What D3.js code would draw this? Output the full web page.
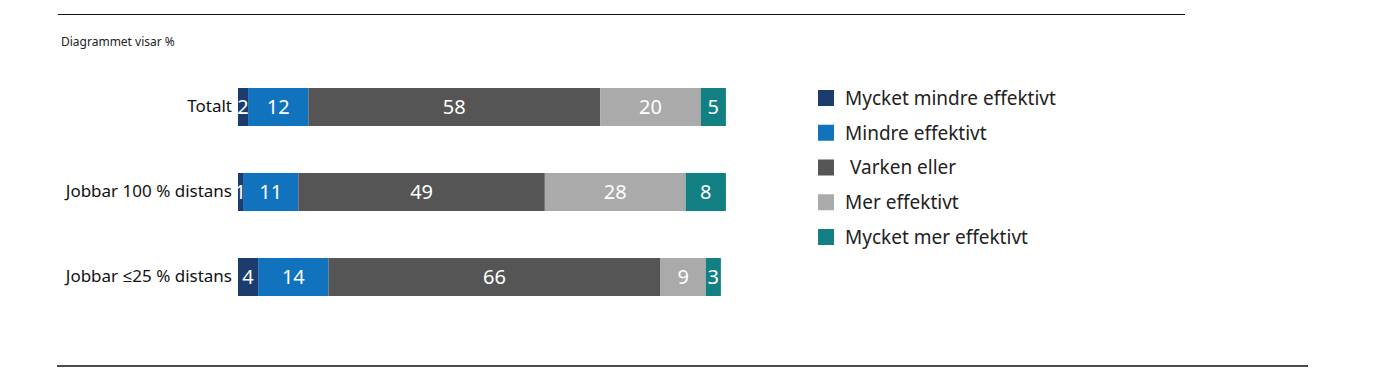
<!DOCTYPE html>
<html>
<head>
<meta charset="utf-8">
<script src="https://cdn.jsdelivr.net/npm/d3@7"></script>
<style>
    body { margin: 0; background: #fff; }
    text { font-family: "Noto Sans", "Open Sans", sans-serif; }
</style>
</head>
<body>
<div id="chart"></div>
<script>
const width = 1378
const height = 376

// data
const categories = ['Totalt', 'Jobbar 100 % distans', 'Jobbar \u226425 % distans']
const series = ['Mycket mindre effektivt', 'Mindre effektivt', 'Varken eller', 'Mer effektivt', 'Mycket mer effektivt']
const colors = ['#1d3c6e', '#1172be', '#555555', '#aaaaaa', '#127f82']
const mycketMindre = [2, 1, 4]
const mindre = [12, 11, 14]
const varkenEller = [58, 49, 66]
const mer = [20, 28, 9]
const mycketMer = [5, 8, 3]

const rows = categories.map((c, i) => ({
    category: c,
    'Mycket mindre effektivt': mycketMindre[i],
    'Mindre effektivt': mindre[i],
    'Varken eller': varkenEller[i],
    'Mer effektivt': mer[i],
    'Mycket mer effektivt': mycketMer[i]
}))

let svg = d3.select('#chart').append('svg').attr('width', width).attr('height', height)

// rules top and bottom
svg.append('line').attr('x1', 58).attr('x2', 1185).attr('y1', 14.5).attr('y2', 14.5)
    .attr('stroke', '#111').attr('stroke-width', 1)
svg.append('line').attr('x1', 57).attr('x2', 1308).attr('y1', 366).attr('y2', 366)
    .attr('stroke', '#111').attr('stroke-width', 1.5)

svg.append('text').attr('x', 61).attr('y', 46)
    .attr('font-size', 12).attr('fill', '#222')
    .text('Diagrammet visar %')

let x = d3.scaleLinear().domain([0, 100]).range([238, 741])
let y = d3.scaleBand().domain(categories).range([88, 296]).paddingInner(0.553).paddingOuter(0)
let color = d3.scaleOrdinal().domain(series).range(colors)

let stacked = d3.stack().keys(series)(rows)

let elementGroup = svg.append('g').attr('id', 'elementGroup')

let layers = elementGroup.selectAll('g.layer').data(stacked)
    .enter().append('g')
    .attr('class', 'layer')
    .attr('fill', d => color(d.key))

layers.selectAll('rect').data(d => d)
    .enter().append('rect')
    .attr('x', d => x(d[0]))
    .attr('y', d => y(d.data.category))
    .attr('width', d => x(d[1]) - x(d[0]))
    .attr('height', y.bandwidth())

layers.selectAll('text').data(d => d)
    .enter().append('text')
    .attr('x', d => (x(d[0]) + x(d[1])) / 2)
    .attr('y', d => y(d.data.category) + y.bandwidth() / 2)
    .attr('dy', '0.36em')
    .attr('text-anchor', 'middle')
    .attr('font-size', 20)
    .attr('fill', '#fff')
    .text(d => d[1] - d[0])

// category labels
let yAxisGroup = svg.append('g').attr('id', 'yAxisGroup')
    .attr('transform', `translate(${x(0)}, 0)`)
let yAxis = d3.axisLeft(y).tickSize(0).tickPadding(6)
yAxisGroup.call(yAxis)
yAxisGroup.select('.domain').remove()
yAxisGroup.selectAll('text').attr('font-size', 17).attr('fill', '#111')
    .style('font-family', '"Noto Sans", "Open Sans", sans-serif')

// legend
let ly = d3.scalePoint().domain(series).range([98, 237])
let legend = svg.append('g').attr('id', 'legend')
let items = legend.selectAll('g.item').data(series)
    .enter().append('g')
    .attr('class', 'item')
    .attr('transform', d => `translate(818, ${ly(d)})`)
items.append('rect')
    .attr('x', 0).attr('y', -8)
    .attr('width', 16).attr('height', 16)
    .attr('fill', d => color(d))
items.append('text')
    .attr('x', d => d === 'Varken eller' ? 32 : 27).attr('dy', '0.36em')
    .attr('font-size', 19).attr('fill', '#222')
    .text(d => d)
</script>
</body>
</html>
